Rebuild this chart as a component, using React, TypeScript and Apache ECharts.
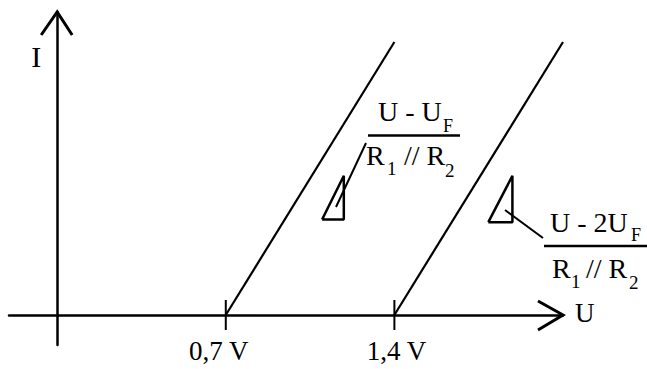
import React, { useEffect, useRef } from "react";
import * as echarts from "echarts";

// Axis ranges (U in volts, I in relative units)
const uRange = [-0.2, 2.1];
const iRange = [-0.11, 1.11];

// Two characteristic branches: knee voltage -> end point
const kneeU = [0.7, 1.4];
const endU = [1.4, 2.1];
const endI = [1, 1];

// Tick marks on the U axis
const tickValues = [0.7, 1.4];
const tickLabels = ["0,7 V", "1,4 V"];
const tickLabelNudge = [-7, 2];

// Slope triangles (closed outlines)
const slopeAU = [1.1, 1.19, 1.19, 1.1];
const slopeAI = [0.35, 0.35, 0.51, 0.35];
const slopeBU = [1.79, 1.89, 1.89, 1.79];
const slopeBI = [0.34, 0.34, 0.51, 0.34];

const FONT = "'Liberation Serif', 'Times New Roman', serif";

const zip = (xs: number[], ys: number[]) => xs.map((x, i) => [x, ys[i]]);

function txt(text: string, x: number, y: number, size: number, align = "left") {
  return {
    type: "text",
    silent: true,
    style: {
      text,
      x,
      y,
      fill: "#000",
      font: `${size}px ${FONT}`,
      align,
      verticalAlign: "middle",
      textAlign: align,
      textVerticalAlign: "middle",
    },
  };
}

function seg(x1: number, y1: number, x2: number, y2: number, w = 2) {
  return {
    type: "line",
    silent: true,
    shape: { x1, y1, x2, y2 },
    style: { stroke: "#000", lineWidth: w, lineCap: "butt" },
  };
}

function poly(points: number[][], w = 3) {
  return {
    type: "polyline",
    silent: true,
    shape: { points },
    style: { stroke: "#000", fill: "none", lineWidth: w, lineJoin: "miter" },
  };
}

export default function App() {
  const ref = useRef<HTMLDivElement>(null);

  useEffect(() => {
    if (!ref.current) return;
    const chart = echarts.init(ref.current, null, { renderer: "svg" });

    const lineSeries = (data: number[][], width: number) => ({
      type: "line",
      data,
      symbol: "none",
      silent: true,
      lineStyle: { color: "#000", width },
    });

    chart.setOption({
      animation: false,
      backgroundColor: "#fff",
      grid: { left: 9, right: 84, top: 12, bottom: 24 },
      xAxis: {
        type: "value",
        min: uRange[0],
        max: uRange[1],
        axisLine: { onZero: true, lineStyle: { color: "#000", width: 2.5 } },
        axisTick: { show: false },
        axisLabel: { show: false },
        splitLine: { show: false },
      },
      yAxis: {
        type: "value",
        min: iRange[0],
        max: iRange[1],
        axisLine: { onZero: true, lineStyle: { color: "#000", width: 2.5 } },
        axisTick: { show: false },
        axisLabel: { show: false },
        splitLine: { show: false },
      },
      series: [
        ...kneeU.map((u, k) => lineSeries([[u, 0], [endU[k], endI[k]]], 2.2)),
        lineSeries(zip(slopeAU, slopeAI), 2.5),
        lineSeries(zip(slopeBU, slopeBI), 2.5),
      ],
    });

    const px = (u: number, i: number) =>
      chart.convertToPixel({ gridIndex: 0 }, [u, i]) as number[];

    const origin = px(0, 0);
    const uEnd = px(uRange[1], 0);
    const iEnd = px(0, iRange[1]);

    const graphic: any[] = [];

    // Open arrowheads at the ends of both axes
    graphic.push(
      poly([[uEnd[0] - 25, uEnd[1] - 14], [uEnd[0], uEnd[1]], [uEnd[0] - 25, uEnd[1] + 15]])
    );
    graphic.push(
      poly([[iEnd[0] - 16, iEnd[1] + 23], [iEnd[0], iEnd[1]], [iEnd[0] + 15, iEnd[1] + 23]])
    );

    // Ticks crossing the U axis, with their labels
    tickValues.forEach((v, k) => {
      const p = px(v, 0);
      graphic.push(seg(p[0], p[1] - 15, p[0], p[1] + 15, 2));
      graphic.push(txt(tickLabels[k], p[0] + tickLabelNudge[k], p[1] + 36, 27, "center"));
    });

    // Axis names
    graphic.push(txt("I", origin[0] - 21, 56, 30, "center"));
    graphic.push(txt("U", uEnd[0] + 12, origin[1] - 1.5, 27, "left"));

    // Slope annotation of the first branch
    graphic.push(seg(336, 207, 366, 143, 2));
    graphic.push(txt("U - U", 378, 111, 28));
    graphic.push(txt("F", 443, 126, 18));
    graphic.push(seg(368, 135.5, 460, 135.5, 2.5));
    graphic.push(txt("R", 366, 155, 28));
    graphic.push(txt("1", 387, 168, 19));
    graphic.push(txt("// R", 404, 155, 28));
    graphic.push(txt("2", 445, 170, 19));

    // Slope annotation of the second branch
    graphic.push(seg(505, 210, 543, 238, 2));
    graphic.push(txt("U - 2U", 550, 222, 28));
    graphic.push(txt("F", 631, 235, 18));
    graphic.push(seg(544, 246, 647, 246, 2.5));
    graphic.push(txt("R", 552, 268.5, 28));
    graphic.push(txt("1", 571, 281, 19));
    graphic.push(txt("// R", 586, 268.5, 28));
    graphic.push(txt("2", 629, 282, 19));

    chart.setOption({ graphic });

    return () => chart.dispose();
  }, []);

  return <div ref={ref} style={{ width: 647, height: 369, position: "absolute", left: 0, top: 0 }} />;
}
